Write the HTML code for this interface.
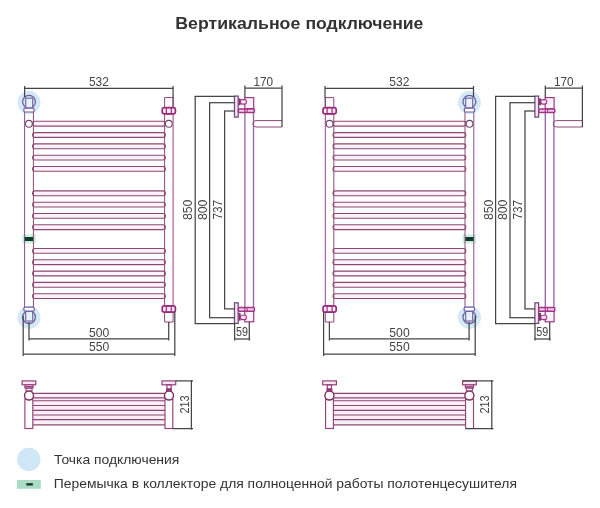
<!DOCTYPE html>
<html lang="ru"><head><meta charset="utf-8"><title>Вертикальное подключение</title>
<style>
html,body{margin:0;padding:0;background:#fff}
svg{display:block;will-change:transform}
text{font-family:"Liberation Sans",sans-serif}
</style></head><body>
<svg width="600" height="508" viewBox="0 0 600 508">
<rect width="600" height="508" fill="#fff"/>
<circle cx="29.00" cy="102.60" r="11.50" fill="#d3e9f5" stroke="none" stroke-width="0"/>
<circle cx="29.00" cy="317.40" r="11.50" fill="#d3e9f5" stroke="none" stroke-width="0"/>
<rect x="22.30" y="234.3" width="13.50" height="9.2" fill="#cdeede"/>
<rect x="32.60" y="121.30" width="132.80" height="4.80" rx="2.4" fill="#fdf2f9" stroke="#8c4872" stroke-width="1.1"/>
<rect x="32.60" y="132.60" width="132.80" height="4.80" rx="2.4" fill="#fdf2f9" stroke="#8c4872" stroke-width="1.1"/>
<rect x="32.60" y="143.90" width="132.80" height="4.80" rx="2.4" fill="#fdf2f9" stroke="#8c4872" stroke-width="1.1"/>
<rect x="32.60" y="155.20" width="132.80" height="4.80" rx="2.4" fill="#fdf2f9" stroke="#8c4872" stroke-width="1.1"/>
<rect x="32.60" y="166.50" width="132.80" height="4.80" rx="2.4" fill="#fdf2f9" stroke="#8c4872" stroke-width="1.1"/>
<rect x="32.60" y="190.90" width="132.80" height="4.80" rx="2.4" fill="#fdf2f9" stroke="#8c4872" stroke-width="1.1"/>
<rect x="32.60" y="202.20" width="132.80" height="4.80" rx="2.4" fill="#fdf2f9" stroke="#8c4872" stroke-width="1.1"/>
<rect x="32.60" y="213.50" width="132.80" height="4.80" rx="2.4" fill="#fdf2f9" stroke="#8c4872" stroke-width="1.1"/>
<rect x="32.60" y="224.80" width="132.80" height="4.80" rx="2.4" fill="#fdf2f9" stroke="#8c4872" stroke-width="1.1"/>
<rect x="32.60" y="248.50" width="132.80" height="4.80" rx="2.4" fill="#fdf2f9" stroke="#8c4872" stroke-width="1.1"/>
<rect x="32.60" y="259.80" width="132.80" height="4.80" rx="2.4" fill="#fdf2f9" stroke="#8c4872" stroke-width="1.1"/>
<rect x="32.60" y="271.10" width="132.80" height="4.80" rx="2.4" fill="#fdf2f9" stroke="#8c4872" stroke-width="1.1"/>
<rect x="32.60" y="282.40" width="132.80" height="4.80" rx="2.4" fill="#fdf2f9" stroke="#8c4872" stroke-width="1.1"/>
<rect x="32.60" y="293.70" width="132.80" height="4.80" rx="2.4" fill="#fdf2f9" stroke="#8c4872" stroke-width="1.1"/>
<line x1="24.60" y1="111.50" x2="24.60" y2="307.30" stroke="#86528e" stroke-width="1"/>
<line x1="33.40" y1="111.50" x2="33.40" y2="307.30" stroke="#8c4872" stroke-width="1"/>
<line x1="164.60" y1="97.60" x2="164.60" y2="322.00" stroke="#8c4872" stroke-width="1"/>
<line x1="173.10" y1="97.60" x2="173.10" y2="322.00" stroke="#984088" stroke-width="1"/>
<line x1="164.60" y1="97.60" x2="173.10" y2="97.60" stroke="#984088" stroke-width="1"/>
<line x1="164.60" y1="322.00" x2="173.10" y2="322.00" stroke="#984088" stroke-width="1"/>
<rect x="162.20" y="107.60" width="13.20" height="6.30" rx="2.2" fill="#fbeaf6" stroke="#9c2a7c" stroke-width="1.7"/>
<rect x="166.30" y="107.60" width="5.00" height="6.30" rx="0" fill="none" stroke="#9c2a7c" stroke-width="1.2"/>
<rect x="162.20" y="305.90" width="13.20" height="6.30" rx="2.2" fill="#fbeaf6" stroke="#9c2a7c" stroke-width="1.7"/>
<rect x="166.30" y="305.90" width="5.00" height="6.30" rx="0" fill="none" stroke="#9c2a7c" stroke-width="1.2"/>
<line x1="173.10" y1="97.70" x2="173.10" y2="107.50" stroke="#6e4a72" stroke-width="1.2"/>
<circle cx="28.90" cy="123.80" r="3.40" fill="#fff" stroke="#74456e" stroke-width="1.1"/>
<circle cx="168.80" cy="123.80" r="3.40" fill="#fff" stroke="#74456e" stroke-width="1.1"/>
<circle cx="29.00" cy="101.75" r="6.40" fill="none" stroke="#7060a4" stroke-width="1.3"/>
<rect x="25.70" y="98.20" width="7.00" height="9.80" rx="0" fill="#e6f2fa" stroke="#7060a4" stroke-width="1.1"/>
<rect x="23.90" y="108.20" width="10.10" height="3.80" rx="1" fill="#fff" stroke="#7060a4" stroke-width="1.2"/>
<circle cx="29.00" cy="317.20" r="6.40" fill="none" stroke="#7060a4" stroke-width="1.3"/>
<rect x="25.70" y="311.30" width="7.00" height="9.70" rx="0" fill="#e6f2fa" stroke="#7060a4" stroke-width="1.1"/>
<rect x="23.90" y="307.20" width="10.30" height="3.90" rx="1" fill="#fff" stroke="#7060a4" stroke-width="1.2"/>
<rect x="24.80" y="237" width="8.20" height="4" fill="#123a2c"/>
<line x1="24.60" y1="88.40" x2="173.10" y2="88.40" stroke="#454545" stroke-width="1.25"/>
<line x1="24.60" y1="86.00" x2="24.60" y2="97.00" stroke="#454545" stroke-width="1.25"/>
<line x1="173.10" y1="86.00" x2="173.10" y2="98.00" stroke="#454545" stroke-width="1.25"/>
<text x="98.90" y="86.00" font-size="13.3" text-anchor="middle" font-weight="normal" fill="#444444" textLength="20" lengthAdjust="spacingAndGlyphs">532</text>
<line x1="29.00" y1="338.80" x2="168.70" y2="338.80" stroke="#454545" stroke-width="1.25"/>
<line x1="29.00" y1="322.00" x2="29.00" y2="340.50" stroke="#454545" stroke-width="1.25"/>
<line x1="168.70" y1="322.00" x2="168.70" y2="340.50" stroke="#454545" stroke-width="1.25"/>
<text x="99.10" y="336.50" font-size="13.3" text-anchor="middle" font-weight="normal" fill="#444444" textLength="20.3" lengthAdjust="spacingAndGlyphs">500</text>
<line x1="23.20" y1="354.00" x2="174.80" y2="354.00" stroke="#454545" stroke-width="1.25"/>
<line x1="23.20" y1="316.00" x2="23.20" y2="356.00" stroke="#454545" stroke-width="1.25"/>
<line x1="174.80" y1="312.00" x2="174.80" y2="356.00" stroke="#454545" stroke-width="1.25"/>
<text x="99.10" y="351.00" font-size="13.3" text-anchor="middle" font-weight="normal" fill="#444444" textLength="20.3" lengthAdjust="spacingAndGlyphs">550</text>
<line x1="244.90" y1="112.00" x2="244.90" y2="308.00" stroke="#9860a6" stroke-width="1.3"/>
<line x1="253.50" y1="112.00" x2="253.50" y2="308.00" stroke="#9860a6" stroke-width="1.3"/>
<rect x="244.80" y="97.60" width="8.90" height="11.00" rx="0" fill="#fdf4fb" stroke="#a23486" stroke-width="1.2"/>
<rect x="244.80" y="311.30" width="8.90" height="10.50" rx="0" fill="#fdf4fb" stroke="#a23486" stroke-width="1.2"/>
<rect x="234.50" y="96.10" width="3.70" height="21.00" rx="0" fill="#f6e8f4" stroke="#6f4f78" stroke-width="1.3"/>
<rect x="234.50" y="302.80" width="3.70" height="20.60" rx="0" fill="#f6e8f4" stroke="#6f4f78" stroke-width="1.3"/>
<rect x="238.60" y="98.4" width="2" height="6.80" fill="#8e2c80"/>
<rect x="240.40" y="99.60" width="6.00" height="4.50" rx="2" fill="#fbe6f6" stroke="#a23486" stroke-width="1.1"/>
<rect x="238.60" y="312.9" width="2" height="7.80" fill="#8e2c80"/>
<rect x="240.40" y="315.20" width="6.00" height="4.40" rx="2" fill="#fbe6f6" stroke="#a23486" stroke-width="1.1"/>
<rect x="238.40" y="108.90" width="16.00" height="3.70" rx="1" fill="#f3cdea" stroke="#a23486" stroke-width="1.5"/>
<line x1="244.80" y1="108.90" x2="244.80" y2="112.60" stroke="#a23486" stroke-width="1.2"/>
<line x1="247.20" y1="108.90" x2="247.20" y2="112.60" stroke="#a23486" stroke-width="1"/>
<rect x="238.40" y="307.50" width="16.00" height="3.80" rx="1" fill="#f3cdea" stroke="#a23486" stroke-width="1.5"/>
<line x1="244.80" y1="307.50" x2="244.80" y2="311.30" stroke="#a23486" stroke-width="1.2"/>
<line x1="247.20" y1="307.50" x2="247.20" y2="311.30" stroke="#a23486" stroke-width="1"/>
<path d="M282.00 120.6 H256.00 a3.2 3.2 0 0 0 0 6.4 H282.00" fill="none" stroke="#8c4872" stroke-width="1"/>
<line x1="244.90" y1="88.10" x2="282.00" y2="88.10" stroke="#454545" stroke-width="1.25"/>
<line x1="244.90" y1="85.60" x2="244.90" y2="97.60" stroke="#454545" stroke-width="1.25"/>
<line x1="282.00" y1="85.60" x2="282.00" y2="127.00" stroke="#454545" stroke-width="1.25"/>
<text x="263.30" y="86.00" font-size="13.3" text-anchor="middle" font-weight="normal" fill="#444444" textLength="19.6" lengthAdjust="spacingAndGlyphs">170</text>
<line x1="195.20" y1="96.30" x2="195.20" y2="323.60" stroke="#454545" stroke-width="1.25"/>
<line x1="194.60" y1="96.30" x2="234.50" y2="96.30" stroke="#454545" stroke-width="1.25"/>
<line x1="194.60" y1="323.60" x2="234.50" y2="323.60" stroke="#454545" stroke-width="1.25"/>
<text x="192.20" y="209.80" font-size="13.0" text-anchor="middle" font-weight="normal" fill="#444444" textLength="20.6" lengthAdjust="spacingAndGlyphs" transform="rotate(-90 192.20 209.80)">850</text>
<line x1="209.60" y1="102.70" x2="209.60" y2="317.70" stroke="#454545" stroke-width="1.25"/>
<line x1="209.00" y1="102.70" x2="234.50" y2="102.70" stroke="#454545" stroke-width="1.25"/>
<line x1="209.00" y1="317.70" x2="234.50" y2="317.70" stroke="#454545" stroke-width="1.25"/>
<text x="206.60" y="209.80" font-size="13.0" text-anchor="middle" font-weight="normal" fill="#444444" textLength="20.6" lengthAdjust="spacingAndGlyphs" transform="rotate(-90 206.60 209.80)">800</text>
<line x1="224.60" y1="111.00" x2="224.60" y2="308.90" stroke="#454545" stroke-width="1.25"/>
<line x1="224.00" y1="111.00" x2="234.50" y2="111.00" stroke="#454545" stroke-width="1.25"/>
<line x1="224.00" y1="308.90" x2="234.50" y2="308.90" stroke="#454545" stroke-width="1.25"/>
<text x="221.60" y="209.80" font-size="13.0" text-anchor="middle" font-weight="normal" fill="#444444" textLength="19.4" lengthAdjust="spacingAndGlyphs" transform="rotate(-90 221.60 209.80)">737</text>
<line x1="234.60" y1="323.00" x2="234.60" y2="340.50" stroke="#454545" stroke-width="1.25"/>
<line x1="249.30" y1="322.00" x2="249.30" y2="340.50" stroke="#454545" stroke-width="1.25"/>
<line x1="234.00" y1="339.00" x2="250.20" y2="339.00" stroke="#454545" stroke-width="1.25"/>
<text x="241.90" y="336.00" font-size="12" text-anchor="middle" font-weight="normal" fill="#444444" textLength="12" lengthAdjust="spacingAndGlyphs">59</text>
<rect x="33.00" y="393.4" width="132.40" height="31.5" fill="#fceef7"/>
<line x1="33.00" y1="393.40" x2="165.40" y2="393.40" stroke="#8c4872" stroke-width="1.15"/>
<line x1="33.00" y1="397.80" x2="165.40" y2="397.80" stroke="#8c4872" stroke-width="1.15"/>
<line x1="33.00" y1="400.70" x2="165.40" y2="400.70" stroke="#8c4872" stroke-width="1.15"/>
<line x1="33.00" y1="405.50" x2="165.40" y2="405.50" stroke="#8c4872" stroke-width="1.15"/>
<line x1="33.00" y1="410.40" x2="165.40" y2="410.40" stroke="#8c4872" stroke-width="1.15"/>
<line x1="33.00" y1="415.00" x2="165.40" y2="415.00" stroke="#8c4872" stroke-width="1.15"/>
<line x1="33.00" y1="419.60" x2="165.40" y2="419.60" stroke="#8c4872" stroke-width="1.15"/>
<line x1="33.00" y1="424.90" x2="165.40" y2="424.90" stroke="#8c4872" stroke-width="1.15"/>
<rect x="22.10" y="380.90" width="13.70" height="3.90" rx="0" fill="#f9e8f4" stroke="#96407a" stroke-width="1.2"/>
<rect x="24.90" y="384.80" width="8.20" height="3.20" rx="0" fill="#f3d9ec" stroke="#96407a" stroke-width="1.1"/>
<line x1="24.90" y1="386.40" x2="33.10" y2="386.40" stroke="#96407a" stroke-width="1"/>
<rect x="26.00" y="388.00" width="6.00" height="3.00" rx="0" fill="none" stroke="#96407a" stroke-width="1.1"/>
<rect x="24.90" y="399.00" width="7.90" height="29.50" rx="0" fill="#fff" stroke="#96407a" stroke-width="1.15"/>
<circle cx="29.00" cy="395.50" r="4.50" fill="#fff" stroke="#7e2f68" stroke-width="1.4"/>
<rect x="162.00" y="380.90" width="13.70" height="3.90" rx="0" fill="#f9e8f4" stroke="#96407a" stroke-width="1.2"/>
<rect x="166.90" y="384.80" width="4.20" height="4.20" rx="0" fill="none" stroke="#96407a" stroke-width="1.2"/>
<rect x="166.60" y="389.00" width="4.80" height="2.00" rx="0" fill="#96407a" stroke="#96407a" stroke-width="1.2"/>
<rect x="165.00" y="399.00" width="7.80" height="29.50" rx="0" fill="#fff" stroke="#96407a" stroke-width="1.15"/>
<circle cx="169.00" cy="395.50" r="4.50" fill="#fff" stroke="#7e2f68" stroke-width="1.4"/>
<line x1="191.40" y1="380.30" x2="191.40" y2="429.50" stroke="#454545" stroke-width="1.25"/>
<line x1="175.70" y1="380.90" x2="193.00" y2="380.90" stroke="#454545" stroke-width="1.25"/>
<line x1="172.80" y1="428.60" x2="193.00" y2="428.60" stroke="#454545" stroke-width="1.25"/>
<text x="189.00" y="404.50" font-size="13.3" text-anchor="middle" font-weight="normal" fill="#444444" textLength="18.2" lengthAdjust="spacingAndGlyphs" transform="rotate(-90 189.00 404.50)">213</text>
<circle cx="469.40" cy="102.60" r="11.50" fill="#d3e9f5" stroke="none" stroke-width="0"/>
<circle cx="469.40" cy="317.40" r="11.50" fill="#d3e9f5" stroke="none" stroke-width="0"/>
<rect x="462.60" y="234.3" width="13.50" height="9.2" fill="#cdeede"/>
<rect x="333.00" y="121.30" width="132.80" height="4.80" rx="2.4" fill="#fdf2f9" stroke="#8c4872" stroke-width="1.1"/>
<rect x="333.00" y="132.60" width="132.80" height="4.80" rx="2.4" fill="#fdf2f9" stroke="#8c4872" stroke-width="1.1"/>
<rect x="333.00" y="143.90" width="132.80" height="4.80" rx="2.4" fill="#fdf2f9" stroke="#8c4872" stroke-width="1.1"/>
<rect x="333.00" y="155.20" width="132.80" height="4.80" rx="2.4" fill="#fdf2f9" stroke="#8c4872" stroke-width="1.1"/>
<rect x="333.00" y="166.50" width="132.80" height="4.80" rx="2.4" fill="#fdf2f9" stroke="#8c4872" stroke-width="1.1"/>
<rect x="333.00" y="190.90" width="132.80" height="4.80" rx="2.4" fill="#fdf2f9" stroke="#8c4872" stroke-width="1.1"/>
<rect x="333.00" y="202.20" width="132.80" height="4.80" rx="2.4" fill="#fdf2f9" stroke="#8c4872" stroke-width="1.1"/>
<rect x="333.00" y="213.50" width="132.80" height="4.80" rx="2.4" fill="#fdf2f9" stroke="#8c4872" stroke-width="1.1"/>
<rect x="333.00" y="224.80" width="132.80" height="4.80" rx="2.4" fill="#fdf2f9" stroke="#8c4872" stroke-width="1.1"/>
<rect x="333.00" y="248.50" width="132.80" height="4.80" rx="2.4" fill="#fdf2f9" stroke="#8c4872" stroke-width="1.1"/>
<rect x="333.00" y="259.80" width="132.80" height="4.80" rx="2.4" fill="#fdf2f9" stroke="#8c4872" stroke-width="1.1"/>
<rect x="333.00" y="271.10" width="132.80" height="4.80" rx="2.4" fill="#fdf2f9" stroke="#8c4872" stroke-width="1.1"/>
<rect x="333.00" y="282.40" width="132.80" height="4.80" rx="2.4" fill="#fdf2f9" stroke="#8c4872" stroke-width="1.1"/>
<rect x="333.00" y="293.70" width="132.80" height="4.80" rx="2.4" fill="#fdf2f9" stroke="#8c4872" stroke-width="1.1"/>
<line x1="473.80" y1="111.50" x2="473.80" y2="307.30" stroke="#86528e" stroke-width="1"/>
<line x1="465.00" y1="111.50" x2="465.00" y2="307.30" stroke="#8c4872" stroke-width="1"/>
<line x1="333.80" y1="97.60" x2="333.80" y2="322.00" stroke="#8c4872" stroke-width="1"/>
<line x1="325.30" y1="97.60" x2="325.30" y2="322.00" stroke="#984088" stroke-width="1"/>
<line x1="333.80" y1="97.60" x2="325.30" y2="97.60" stroke="#984088" stroke-width="1"/>
<line x1="333.80" y1="322.00" x2="325.30" y2="322.00" stroke="#984088" stroke-width="1"/>
<rect x="323.00" y="107.60" width="13.20" height="6.30" rx="2.2" fill="#fbeaf6" stroke="#9c2a7c" stroke-width="1.7"/>
<rect x="327.10" y="107.60" width="5.00" height="6.30" rx="0" fill="none" stroke="#9c2a7c" stroke-width="1.2"/>
<rect x="323.00" y="305.90" width="13.20" height="6.30" rx="2.2" fill="#fbeaf6" stroke="#9c2a7c" stroke-width="1.7"/>
<rect x="327.10" y="305.90" width="5.00" height="6.30" rx="0" fill="none" stroke="#9c2a7c" stroke-width="1.2"/>
<line x1="325.30" y1="97.70" x2="325.30" y2="107.50" stroke="#6e4a72" stroke-width="1.2"/>
<circle cx="469.50" cy="123.80" r="3.40" fill="#fff" stroke="#74456e" stroke-width="1.1"/>
<circle cx="329.60" cy="123.80" r="3.40" fill="#fff" stroke="#74456e" stroke-width="1.1"/>
<circle cx="469.40" cy="101.75" r="6.40" fill="none" stroke="#7060a4" stroke-width="1.3"/>
<rect x="465.70" y="98.20" width="7.00" height="9.80" rx="0" fill="#e6f2fa" stroke="#7060a4" stroke-width="1.1"/>
<rect x="464.40" y="108.20" width="10.10" height="3.80" rx="1" fill="#fff" stroke="#7060a4" stroke-width="1.2"/>
<circle cx="469.40" cy="317.20" r="6.40" fill="none" stroke="#7060a4" stroke-width="1.3"/>
<rect x="465.70" y="311.30" width="7.00" height="9.70" rx="0" fill="#e6f2fa" stroke="#7060a4" stroke-width="1.1"/>
<rect x="464.20" y="307.20" width="10.30" height="3.90" rx="1" fill="#fff" stroke="#7060a4" stroke-width="1.2"/>
<rect x="465.40" y="237" width="8.20" height="4" fill="#123a2c"/>
<line x1="325.00" y1="88.40" x2="473.50" y2="88.40" stroke="#454545" stroke-width="1.25"/>
<line x1="325.00" y1="86.00" x2="325.00" y2="98.00" stroke="#454545" stroke-width="1.25"/>
<line x1="473.50" y1="86.00" x2="473.50" y2="97.00" stroke="#454545" stroke-width="1.25"/>
<text x="399.30" y="86.00" font-size="13.3" text-anchor="middle" font-weight="normal" fill="#444444" textLength="20" lengthAdjust="spacingAndGlyphs">532</text>
<line x1="329.40" y1="338.80" x2="469.10" y2="338.80" stroke="#454545" stroke-width="1.25"/>
<line x1="329.40" y1="322.00" x2="329.40" y2="340.50" stroke="#454545" stroke-width="1.25"/>
<line x1="469.10" y1="322.00" x2="469.10" y2="340.50" stroke="#454545" stroke-width="1.25"/>
<text x="399.50" y="336.50" font-size="13.3" text-anchor="middle" font-weight="normal" fill="#444444" textLength="20.3" lengthAdjust="spacingAndGlyphs">500</text>
<line x1="323.60" y1="354.00" x2="475.20" y2="354.00" stroke="#454545" stroke-width="1.25"/>
<line x1="323.60" y1="312.00" x2="323.60" y2="356.00" stroke="#454545" stroke-width="1.25"/>
<line x1="475.20" y1="316.00" x2="475.20" y2="356.00" stroke="#454545" stroke-width="1.25"/>
<text x="399.50" y="351.00" font-size="13.3" text-anchor="middle" font-weight="normal" fill="#444444" textLength="20.3" lengthAdjust="spacingAndGlyphs">550</text>
<line x1="545.30" y1="112.00" x2="545.30" y2="308.00" stroke="#9860a6" stroke-width="1.3"/>
<line x1="553.90" y1="112.00" x2="553.90" y2="308.00" stroke="#9860a6" stroke-width="1.3"/>
<rect x="545.20" y="97.60" width="8.90" height="11.00" rx="0" fill="#fdf4fb" stroke="#a23486" stroke-width="1.2"/>
<rect x="545.20" y="311.30" width="8.90" height="10.50" rx="0" fill="#fdf4fb" stroke="#a23486" stroke-width="1.2"/>
<rect x="534.90" y="96.10" width="3.70" height="21.00" rx="0" fill="#f6e8f4" stroke="#6f4f78" stroke-width="1.3"/>
<rect x="534.90" y="302.80" width="3.70" height="20.60" rx="0" fill="#f6e8f4" stroke="#6f4f78" stroke-width="1.3"/>
<rect x="539.00" y="98.4" width="2" height="6.80" fill="#8e2c80"/>
<rect x="540.80" y="99.60" width="6.00" height="4.50" rx="2" fill="#fbe6f6" stroke="#a23486" stroke-width="1.1"/>
<rect x="539.00" y="312.9" width="2" height="7.80" fill="#8e2c80"/>
<rect x="540.80" y="315.20" width="6.00" height="4.40" rx="2" fill="#fbe6f6" stroke="#a23486" stroke-width="1.1"/>
<rect x="538.80" y="108.90" width="16.00" height="3.70" rx="1" fill="#f3cdea" stroke="#a23486" stroke-width="1.5"/>
<line x1="545.20" y1="108.90" x2="545.20" y2="112.60" stroke="#a23486" stroke-width="1.2"/>
<line x1="547.60" y1="108.90" x2="547.60" y2="112.60" stroke="#a23486" stroke-width="1"/>
<rect x="538.80" y="307.50" width="16.00" height="3.80" rx="1" fill="#f3cdea" stroke="#a23486" stroke-width="1.5"/>
<line x1="545.20" y1="307.50" x2="545.20" y2="311.30" stroke="#a23486" stroke-width="1.2"/>
<line x1="547.60" y1="307.50" x2="547.60" y2="311.30" stroke="#a23486" stroke-width="1"/>
<path d="M582.40 120.6 H556.40 a3.2 3.2 0 0 0 0 6.4 H582.40" fill="none" stroke="#8c4872" stroke-width="1"/>
<line x1="545.30" y1="88.10" x2="582.40" y2="88.10" stroke="#454545" stroke-width="1.25"/>
<line x1="545.30" y1="85.60" x2="545.30" y2="97.60" stroke="#454545" stroke-width="1.25"/>
<line x1="582.40" y1="85.60" x2="582.40" y2="127.00" stroke="#454545" stroke-width="1.25"/>
<text x="563.70" y="86.00" font-size="13.3" text-anchor="middle" font-weight="normal" fill="#444444" textLength="19.6" lengthAdjust="spacingAndGlyphs">170</text>
<line x1="495.60" y1="96.30" x2="495.60" y2="323.60" stroke="#454545" stroke-width="1.25"/>
<line x1="495.00" y1="96.30" x2="534.90" y2="96.30" stroke="#454545" stroke-width="1.25"/>
<line x1="495.00" y1="323.60" x2="534.90" y2="323.60" stroke="#454545" stroke-width="1.25"/>
<text x="492.60" y="209.80" font-size="13.0" text-anchor="middle" font-weight="normal" fill="#444444" textLength="20.6" lengthAdjust="spacingAndGlyphs" transform="rotate(-90 492.60 209.80)">850</text>
<line x1="510.00" y1="102.70" x2="510.00" y2="317.70" stroke="#454545" stroke-width="1.25"/>
<line x1="509.40" y1="102.70" x2="534.90" y2="102.70" stroke="#454545" stroke-width="1.25"/>
<line x1="509.40" y1="317.70" x2="534.90" y2="317.70" stroke="#454545" stroke-width="1.25"/>
<text x="507.00" y="209.80" font-size="13.0" text-anchor="middle" font-weight="normal" fill="#444444" textLength="20.6" lengthAdjust="spacingAndGlyphs" transform="rotate(-90 507.00 209.80)">800</text>
<line x1="525.00" y1="111.00" x2="525.00" y2="308.90" stroke="#454545" stroke-width="1.25"/>
<line x1="524.40" y1="111.00" x2="534.90" y2="111.00" stroke="#454545" stroke-width="1.25"/>
<line x1="524.40" y1="308.90" x2="534.90" y2="308.90" stroke="#454545" stroke-width="1.25"/>
<text x="522.00" y="209.80" font-size="13.0" text-anchor="middle" font-weight="normal" fill="#444444" textLength="19.4" lengthAdjust="spacingAndGlyphs" transform="rotate(-90 522.00 209.80)">737</text>
<line x1="535.00" y1="323.00" x2="535.00" y2="340.50" stroke="#454545" stroke-width="1.25"/>
<line x1="549.70" y1="322.00" x2="549.70" y2="340.50" stroke="#454545" stroke-width="1.25"/>
<line x1="534.40" y1="339.00" x2="550.60" y2="339.00" stroke="#454545" stroke-width="1.25"/>
<text x="542.30" y="336.00" font-size="12" text-anchor="middle" font-weight="normal" fill="#444444" textLength="12" lengthAdjust="spacingAndGlyphs">59</text>
<rect x="333.00" y="393.4" width="132.40" height="31.5" fill="#fceef7"/>
<line x1="333.00" y1="393.40" x2="465.40" y2="393.40" stroke="#8c4872" stroke-width="1.15"/>
<line x1="333.00" y1="397.80" x2="465.40" y2="397.80" stroke="#8c4872" stroke-width="1.15"/>
<line x1="333.00" y1="400.70" x2="465.40" y2="400.70" stroke="#8c4872" stroke-width="1.15"/>
<line x1="333.00" y1="405.50" x2="465.40" y2="405.50" stroke="#8c4872" stroke-width="1.15"/>
<line x1="333.00" y1="410.40" x2="465.40" y2="410.40" stroke="#8c4872" stroke-width="1.15"/>
<line x1="333.00" y1="415.00" x2="465.40" y2="415.00" stroke="#8c4872" stroke-width="1.15"/>
<line x1="333.00" y1="419.60" x2="465.40" y2="419.60" stroke="#8c4872" stroke-width="1.15"/>
<line x1="333.00" y1="424.90" x2="465.40" y2="424.90" stroke="#8c4872" stroke-width="1.15"/>
<rect x="462.60" y="380.90" width="13.70" height="3.90" rx="0" fill="#f9e8f4" stroke="#96407a" stroke-width="1.2"/>
<rect x="465.30" y="384.80" width="8.20" height="3.20" rx="0" fill="#f3d9ec" stroke="#96407a" stroke-width="1.1"/>
<line x1="465.30" y1="386.40" x2="473.50" y2="386.40" stroke="#96407a" stroke-width="1"/>
<rect x="466.40" y="388.00" width="6.00" height="3.00" rx="0" fill="none" stroke="#96407a" stroke-width="1.1"/>
<rect x="465.60" y="399.00" width="7.90" height="29.50" rx="0" fill="#fff" stroke="#96407a" stroke-width="1.15"/>
<circle cx="469.40" cy="395.50" r="4.50" fill="#fff" stroke="#7e2f68" stroke-width="1.4"/>
<rect x="322.70" y="380.90" width="13.70" height="3.90" rx="0" fill="#f9e8f4" stroke="#96407a" stroke-width="1.2"/>
<rect x="327.30" y="384.80" width="4.20" height="4.20" rx="0" fill="none" stroke="#96407a" stroke-width="1.2"/>
<rect x="327.00" y="389.00" width="4.80" height="2.00" rx="0" fill="#96407a" stroke="#96407a" stroke-width="1.2"/>
<rect x="325.60" y="399.00" width="7.80" height="29.50" rx="0" fill="#fff" stroke="#96407a" stroke-width="1.15"/>
<circle cx="329.40" cy="395.50" r="4.50" fill="#fff" stroke="#7e2f68" stroke-width="1.4"/>
<line x1="491.80" y1="380.30" x2="491.80" y2="429.50" stroke="#454545" stroke-width="1.25"/>
<line x1="462.60" y1="380.90" x2="493.40" y2="380.90" stroke="#454545" stroke-width="1.25"/>
<line x1="465.60" y1="428.60" x2="493.40" y2="428.60" stroke="#454545" stroke-width="1.25"/>
<text x="489.40" y="404.50" font-size="13.3" text-anchor="middle" font-weight="normal" fill="#444444" textLength="18.2" lengthAdjust="spacingAndGlyphs" transform="rotate(-90 489.40 404.50)">213</text>
<text y="28.9" font-size="16.8" font-weight="bold" fill="#333"><tspan x="175.3" textLength="125" lengthAdjust="spacingAndGlyphs">Вертикальное</tspan> <tspan x="305.4" textLength="118" lengthAdjust="spacingAndGlyphs">подключение</tspan></text>
<circle cx="28.80" cy="459.50" r="11.70" fill="#cfe7f7" stroke="none" stroke-width="0"/>
<rect x="17" y="480" width="23.8" height="8.8" fill="#a9dcc3"/>
<rect x="26.3" y="483.2" width="6.6" height="2.3" fill="#16352a"/>
<text x="54.00" y="463.70" font-size="13.4" text-anchor="start" font-weight="normal" fill="#333" textLength="125.3" lengthAdjust="spacingAndGlyphs">Точка подключения</text>
<text x="53.80" y="487.70" font-size="13.4" text-anchor="start" font-weight="normal" fill="#333" textLength="463.2" lengthAdjust="spacingAndGlyphs">Перемычка в коллекторе для полноценной работы полотенцесушителя</text>
</svg>
</body></html>
